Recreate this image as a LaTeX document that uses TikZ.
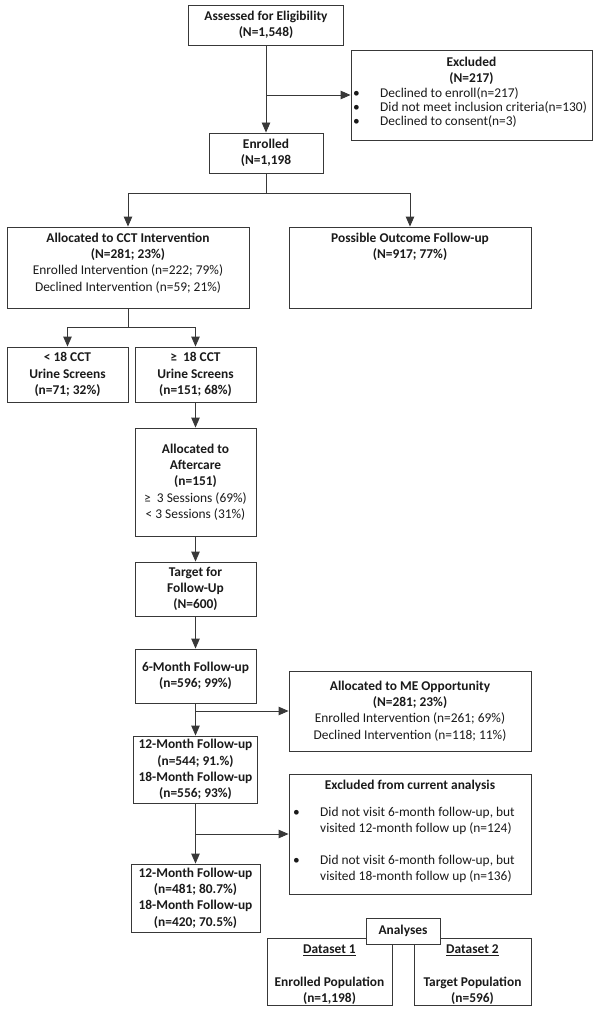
\documentclass[tikz,border=0pt]{standalone}
\usepackage{fontspec}
\setmainfont{Carlito}
\usetikzlibrary{arrows.meta,calc}
\definecolor{lc}{HTML}{383838}
\definecolor{tc}{HTML}{1A1A1A}
\begin{document}
\begin{tikzpicture}[x=1pt,y=-1pt,
  box/.style={draw=lc, line width=0.9pt, fill=white, inner sep=0pt, align=center, text=tc},
  txt/.style={inner sep=0pt, align=center, text=tc},
  arr/.style={draw=lc, line width=0.9pt, -{Triangle[length=10pt,width=8.5pt]}},
  ln/.style={draw=lc, line width=0.9pt},
  font=\fontsize{13.4}{16.3}\selectfont]
\useasboundingbox (0,0) rectangle (600,1011);

% top
\node[box, minimum width=155pt, minimum height=40pt] (assess) at (266,25)
  {\textbf{Assessed for Eligibility}\\\textbf{(N=1,548)}};
\node[box, minimum width=241pt, minimum height=90pt] (excl) at (471.5,95) {};
\node[txt, anchor=north] (exclh) at ([yshift=-7pt]excl.north)
  {\fontsize{13.4}{15}\selectfont\textbf{Excluded}\\\textbf{(N=217)}};
\node[txt, anchor=north west, align=left] (exclb) at (353,87)
  {\fontsize{13.4}{14.3}\selectfont\begin{tabular}{@{}p{27pt}@{}l@{}}
   \textbullet & Declined to enroll(n=217)\\
   \textbullet & Did not meet inclusion criteria(n=130)\\
   \textbullet & Declined to consent(n=3)
   \end{tabular}};
\node[box, minimum width=114pt, minimum height=40pt] (enr) at (266,153)
  {\textbf{Enrolled}\\\textbf{(N=1,198}};

% second row
\node[box, minimum width=242pt, minimum height=81pt] (cct) at (128,267.5) {};
\node[txt, anchor=north] (ccttxt) at ([yshift=-6pt]cct.north)
  {\textbf{Allocated to CCT Intervention}\\\textbf{(N=281; 23\%)}\\
   Enrolled Intervention (n=222; 79\%)\\Declined Intervention (n=59; 21\%)};
\node[box, minimum width=242pt, minimum height=81pt] (out) at (410,267.5) {};
\node[txt, anchor=north] (outtxt) at ([yshift=-6pt]out.north)
  {\textbf{Possible Outcome Follow-up}\\\textbf{(N=917; 77\%)}};

% urine screens
\node[box, minimum width=121pt, minimum height=55pt] (lt18) at (67.5,374.5)
  {\textbf{< 18 CCT}\\\textbf{Urine Screens}\\\textbf{(n=71; 32\%)}};
\node[box, minimum width=121pt, minimum height=55pt] (ge18) at (195.5,374.5)
  {\textbf{≥\ \ 18 CCT}\\\textbf{Urine Screens}\\\textbf{(n=151; 68\%)}};

% chain
\node[box, minimum width=121pt, minimum height=108pt] (after) at (195.5,482)
  {\textbf{Allocated to}\\\textbf{Aftercare}\\\textbf{(n=151)}\\≥\ \ 3 Sessions (69\%)\\< 3 Sessions (31\%)};
\node[box, minimum width=121pt, minimum height=54pt] (target) at (195.5,589)
  {\textbf{Target for}\\\textbf{Follow-Up}\\\textbf{(N=600)}};
\node[box, minimum width=121pt, minimum height=54pt] (m6) at (195.5,676)
  {\textbf{6-Month Follow-up}\\\textbf{(n=596; 99\%)}};
\node[box, minimum width=242pt, minimum height=80pt] (me) at (410,711)
  {\textbf{Allocated to ME Opportunity}\\\textbf{(N=281; 23\%)}\\
   Enrolled Intervention (n=261; 69\%)\\Declined Intervention (n=118; 11\%)};
\node[box, minimum width=124pt, minimum height=67pt] (m12) at (195.5,769.5)
  {\textbf{12-Month Follow-up}\\\textbf{(n=544; 91.\%)}\\\textbf{18-Month Follow-up}\\\textbf{(n=556; 93\%)}};
\node[box, minimum width=242pt, minimum height=120pt] (ex2) at (410,834) {};
\node[txt, anchor=north] (ex2h) at ([yshift=-6pt]ex2.north)
  {\textbf{Excluded from current analysis}};
\node[txt, anchor=north west, align=left] (ex2b) at (293,805)
  {\fontsize{13.4}{16}\selectfont\begin{tabular}{@{}p{27pt}@{}l@{}}
   \textbullet & Did not visit 6-month follow-up, but\\
   & visited 12-month follow up (n=124)\\[16pt]
   \textbullet & Did not visit 6-month follow-up, but\\
   & visited 18-month follow up (n=136)
   \end{tabular}};
\node[box, minimum width=129pt, minimum height=68pt] (fin) at (195.5,898)
  {\textbf{12-Month Follow-up}\\\textbf{(n=481; 80.7\%)}\\\textbf{18-Month Follow-up}\\\textbf{(n=420; 70.5\%)}};

% analyses
\node[box, minimum width=125pt, minimum height=67pt] (d1) at (329.5,971.5) {};
\node[txt] (d1txt) at ([yshift=-3.5pt]d1.center)
  {\textbf{\underline{Dataset 1}}\\\mbox{}\\\textbf{Enrolled Population}\\\textbf{(n=1,198)}};
\node[box, minimum width=117pt, minimum height=67pt] (d2) at (472.5,971.5) {};
\node[txt] (d2txt) at ([yshift=-3.5pt]d2.center)
  {\textbf{\underline{Dataset 2}}\\\mbox{}\\\textbf{Target Population}\\\textbf{(n=596)}};
\node[box, minimum width=74pt, minimum height=26pt] (ana) at (403,931)
  {\textbf{Analyses}};

% connectors
\draw[arr] (assess.south) -- (enr.north);
\draw[arr] (assess.south |- excl.west) -- (excl.west);
\coordinate (j1) at (266,193);
\draw[ln] (enr.south) -- (j1);
\draw[arr] (j1) -| (cct.north);
\draw[arr] (j1) -| (out.north);
\coordinate (j2) at (128,327);
\draw[ln] (cct.south) -- (j2);
\draw[arr] (j2) -| (lt18.north);
\draw[arr] (j2) -| (ge18.north);
\draw[arr] (ge18.south) -- (after.north);
\draw[arr] (after.south) -- (target.north);
\draw[arr] (target.south) -- (m6.north);
\draw[arr] (m6.south) -- (m12.north);
\draw[arr] (m6.south |- me.west) -- (me.west);
\draw[arr] (m12.south) -- (fin.north);
\draw[arr] (m12.south |- ex2.west) -- (ex2.west);
\end{tikzpicture}
\end{document}
